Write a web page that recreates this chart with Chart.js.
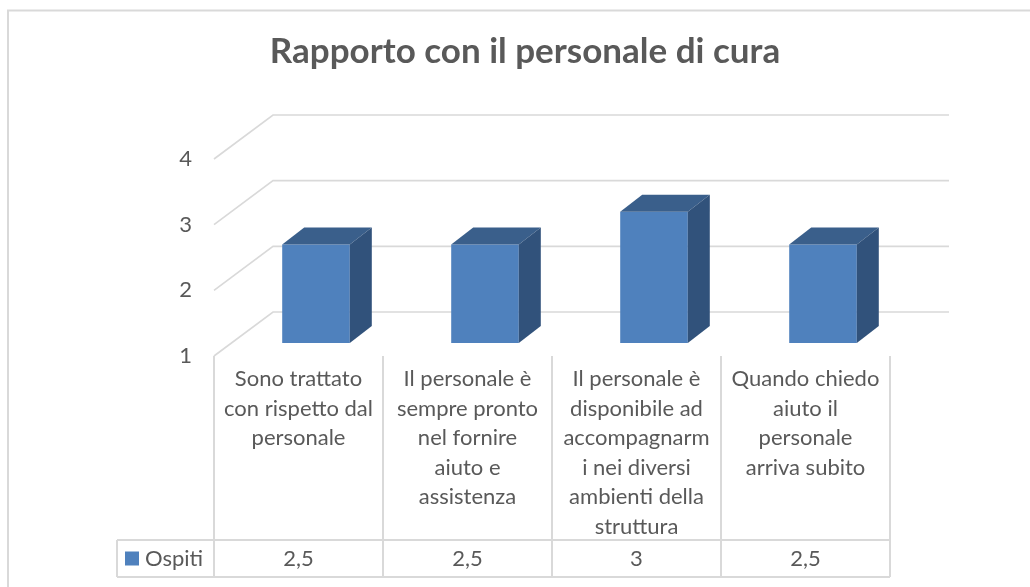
<!DOCTYPE html>
<html><head><meta charset="utf-8">
<script src="https://cdn.jsdelivr.net/npm/chart.js@4.4.0/dist/chart.umd.min.js"></script>
<style>html,body{margin:0;padding:0;background:#fff}#wrap{width:1030px;height:587px;position:relative}canvas{display:block}</style>
</head><body><div id="wrap"><canvas id="c" width="1030" height="587"></canvas></div>
<script>
const titleText = "Rapporto con il personale di cura";
const categories = [
  ["Sono trattato", "con rispetto dal", "personale"],
  ["Il personale è", "sempre pronto", "nel fornire", "aiuto e", "assistenza"],
  ["Il personale è", "disponibile ad", "accompagnarm", "i nei diversi", "ambienti della", "struttura"],
  ["Quando chiedo", "aiuto il", "personale", "arriva subito"]
];
const seriesName = "Ospiti";
const ospiti = [2.5, 2.5, 3, 2.5];
const valueLabels = ["2,5", "2,5", "3", "2,5"];
const yMin = 1, yMax = 4, yStep = 1;

const GRID = '#D9D9D9', TXT = '#595959';
const FRONT = '#4F81BD', TOPC = '#3A5F8B', SIDEC = '#31527B';
const DEPTH = {dx: 59, dy: -44};
const BAR_SHIFT = {dx: 17.5, dy: -13};
const BAR_DEPTH = {dx: 22, dy: -17};

function poly(ctx, pts) {
  ctx.beginPath();
  ctx.moveTo(pts[0][0], pts[0][1]);
  for (let i = 1; i < pts.length; i++) ctx.lineTo(pts[i][0], pts[i][1]);
  ctx.closePath();
  ctx.fill();
}

const excel3d = {
  id: 'excel3d',
  beforeDraw(chart) {
    const ctx = chart.ctx;
    ctx.save();
    ctx.fillStyle = '#fff';
    ctx.fillRect(0, 0, chart.width, chart.height);
    ctx.strokeStyle = GRID; ctx.lineWidth = 2;
    ctx.beginPath();
    ctx.moveTo(8, chart.height); ctx.lineTo(8, 10.5); ctx.lineTo(chart.width, 10.5);
    ctx.stroke();
    ctx.restore();
  },
  beforeDatasetsDraw(chart) {
    const {ctx, chartArea: a, scales: {y}} = chart;
    ctx.save();
    ctx.strokeStyle = GRID; ctx.lineWidth = 1.6;
    y.ticks.forEach(t => {
      const py = y.getPixelForValue(t.value);
      ctx.beginPath();
      ctx.moveTo(a.left, py);
      ctx.lineTo(a.left + DEPTH.dx, py + DEPTH.dy);
      ctx.lineTo(a.right + DEPTH.dx, py + DEPTH.dy);
      ctx.stroke();
    });
    ctx.restore();
    ctx.save();
    ctx.translate(BAR_SHIFT.dx, BAR_SHIFT.dy);
  },
  afterDatasetsDraw(chart) {
    const ctx = chart.ctx;
    const dx = BAR_DEPTH.dx, dy = BAR_DEPTH.dy;
    chart.getDatasetMeta(0).data.forEach(bar => {
      const p = bar.getProps(['x', 'y', 'base', 'width'], true);
      const l = p.x - p.width / 2, r = p.x + p.width / 2, t = p.y, b = p.base;
      ctx.fillStyle = TOPC;
      poly(ctx, [[l, t], [r, t], [r + dx, t + dy], [l + dx, t + dy]]);
      ctx.fillStyle = SIDEC;
      poly(ctx, [[r, t], [r + dx, t + dy], [r + dx, b + dy], [r, b]]);
    });
    ctx.restore();
  },
  afterDraw(chart) {
    const {ctx, chartArea: a, scales: {x}} = chart;
    const n = categories.length;
    const colW = (a.right - a.left) / n;
    const rowTop = a.bottom + 184, rowBot = rowTop + 37;
    const legLeft = a.left - 97;
    ctx.save();
    ctx.strokeStyle = GRID; ctx.lineWidth = 2;
    ctx.beginPath();
    for (let i = 0; i <= n; i++) {
      const xx = a.left + i * colW;
      ctx.moveTo(xx, a.bottom); ctx.lineTo(xx, rowBot);
    }
    ctx.moveTo(legLeft, rowTop); ctx.lineTo(a.right, rowTop);
    ctx.moveTo(legLeft, rowBot); ctx.lineTo(a.right, rowBot);
    ctx.moveTo(legLeft, rowTop); ctx.lineTo(legLeft, rowBot);
    ctx.stroke();
    const cy = (rowTop + rowBot) / 2;
    ctx.fillStyle = FRONT;
    ctx.fillRect(legLeft + 8, cy - 7, 14, 14);
    ctx.fillStyle = TXT;
    ctx.font = '22px Lato';
    ctx.textBaseline = 'middle';
    ctx.textAlign = 'left';
    ctx.fillText(seriesName, legLeft + 28, cy);
    ctx.textAlign = 'center';
    valueLabels.forEach((v, i) => ctx.fillText(v, x.getPixelForValue(i), cy));
    ctx.restore();
  }
};

Chart.defaults.font.family = 'Lato';
Chart.defaults.color = TXT;

new Chart(document.getElementById('c'), {
  type: 'bar',
  data: {
    labels: categories,
    datasets: [{
      label: seriesName,
      data: ospiti,
      base: yMin,
      backgroundColor: FRONT,
      borderWidth: 0,
      categoryPercentage: 1,
      barPercentage: 0.4,
      clip: false
    }]
  },
  options: {
    responsive: false,
    devicePixelRatio: 1,
    animation: false,
    layout: {padding: {top: 0, left: 20, right: 0, bottom: 0}},
    plugins: {
      legend: {display: false},
      tooltip: {enabled: false},
      title: {
        display: true,
        text: titleText,
        color: TXT,
        font: {size: 35, weight: 'bold', family: 'Lato', lineHeight: 1.2},
        padding: {top: 31, bottom: 86}
      }
    },
    scales: {
      x: {
        grid: {display: false, drawTicks: false},
        border: {display: false},
        ticks: {
          color: TXT, autoSkip: false, maxRotation: 0, minRotation: 0, padding: 8.2,
          font: {size: 22, lineHeight: 1.345}
        },
        afterFit(s) { s.height = 231; }
      },
      y: {
        min: yMin, max: yMax,
        grid: {display: false, drawTicks: false},
        border: {display: false},
        ticks: {stepSize: yStep, color: TXT, padding: 22, font: {size: 22}},
        afterFit(s) { s.width = 194; }
      },
      yRight: {
        type: 'linear',
        position: 'right',
        display: true,
        grid: {display: false, drawTicks: false},
        border: {display: false},
        ticks: {display: false},
        afterFit(s) { s.width = 140; }
      }
    }
  },
  plugins: [excel3d]
});
</script>
</body></html>
